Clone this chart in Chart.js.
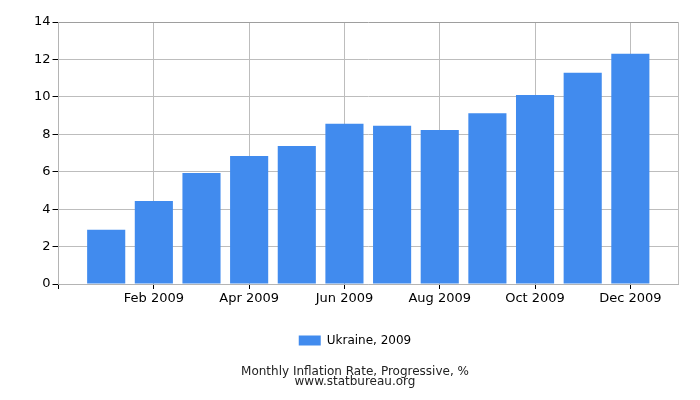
<!DOCTYPE html>
<html>
<head>
<meta charset="utf-8">
<script src="https://cdn.jsdelivr.net/npm/chart.js@4/dist/chart.umd.min.js"></script>
<style>
  html, body { margin: 0; padding: 0; background: #fff; }
  #wrap { width: 700px; height: 400px; }
</style>
</head>
<body>
<div id="wrap"><canvas id="chart"></canvas></div>
<script>
// chart data
const months = ['Jan 2009', 'Feb 2009', 'Mar 2009', 'Apr 2009', 'May 2009', 'Jun 2009',
  'Jul 2009', 'Aug 2009', 'Sep 2009', 'Oct 2009', 'Nov 2009', 'Dec 2009'];
const ukraine2009 = [2.9, 4.44, 5.93, 6.84, 7.38, 8.56, 8.45, 8.23, 9.13, 10.1, 11.29, 12.3];
const yTicks = [0, 2, 4, 6, 8, 10, 12, 14];
const seriesName = 'Ukraine, 2009';
const titleLines = ['Monthly Inflation Rate, Progressive, %', 'www.statbureau.org'];

// empty slot on both sides so the bars sit away from the edges
const labels = [''].concat(months, ['']);
const values = [null].concat(ukraine2009, [null]);
const lastIdx = labels.length - 1;

const font = { family: 'DejaVu Sans', size: 13 };

new Chart(document.getElementById('chart').getContext('2d'), {
  type: 'bar',
  data: {
    labels: labels,
    datasets: [{
      label: seriesName,
      data: values,
      backgroundColor: '#418bee',
      borderWidth: 0,
      barPercentage: 0.8,
      categoryPercentage: 1.0,
    }],
  },
  options: {
    responsive: true,
    maintainAspectRatio: false,
    animation: false,
    layout: { padding: { left: 32, right: 22, top: 22, bottom: 13 } },
    scales: {
      x: {
        offset: false,
        border: { display: true, color: '#b4b4b4' },
        grid: {
          offset: false,
          color: (c) => (c.index % 2 === 0 && c.index > 0) || c.index === lastIdx ? '#bdbdbd' : 'rgba(0,0,0,0)',
          tickColor: (c) => c.index % 2 === 0 ? '#000' : 'rgba(0,0,0,0)',
          tickLength: 5,
        },
        ticks: {
          autoSkip: false,
          maxRotation: 0,
          color: '#000',
          font: font,
          padding: 2,
          callback: function (v, i) { return i % 2 === 0 ? labels[i] : ''; },
        },
        // extra room between the month labels and the legend
        afterFit: (s) => { s.height += 16; },
      },
      y: {
        min: 0,
        max: 14,
        afterBuildTicks: (s) => { s.ticks = yTicks.map((v) => ({ value: v })); },
        border: { display: true, color: '#b4b4b4' },
        grid: { color: (c) => c.index === yTicks.length - 1 ? '#9e9e9e' : '#bdbdbd', tickColor: '#000', tickLength: 6 },
        ticks: { color: '#000', font: font, padding: 2 },
      },
    },
    plugins: {
      legend: {
        position: 'bottom',
        labels: {
          color: '#000',
          font: { family: 'DejaVu Sans', size: 12 },
          boxWidth: 22,
          boxHeight: 10,
          padding: 10,
        },
      },
      title: {
        display: true,
        position: 'bottom',
        text: titleLines,
        color: '#222',
        font: { family: 'DejaVu Sans', size: 12, weight: 'normal', lineHeight: 0.85 },
        padding: { top: 10, bottom: 0 },
      },
      tooltip: { enabled: false },
    },
  },
});
</script>
</body>
</html>
